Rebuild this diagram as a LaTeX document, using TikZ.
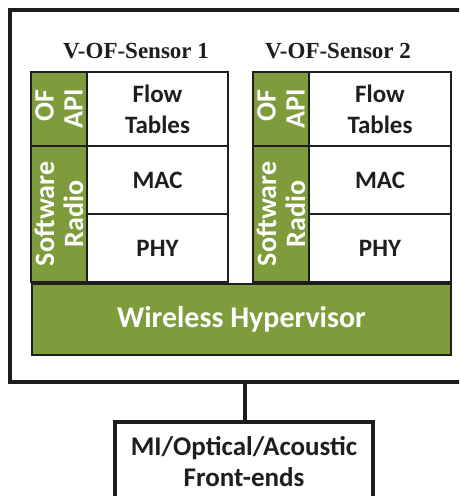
\documentclass[tikz,border=0pt]{standalone}
\usepackage{fontspec}
\setmainfont{Carlito}
\newfontfamily\titlefont{Liberation Serif}
\definecolor{olive}{HTML}{7E9C3B}
\definecolor{ink}{HTML}{1E1E1E}
\tikzset{
  cell/.style={draw=ink, line width=2.6pt, fill=white, inner sep=0pt, font=\bfseries\fontsize{25}{31}\selectfont, text=ink, align=center},
  gcell/.style={cell, fill=olive, text=white, font=\bfseries\fontsize{28}{29}\selectfont},
  ttl/.style={font=\titlefont\bfseries\fontsize{23}{26}\selectfont, text=ink, inner sep=0pt},
}
\begin{document}
\begin{tikzpicture}[x=1pt,y=-1pt]
\useasboundingbox (0,0) rectangle (459,496);
\clip (0,0) rectangle (459,496);
% outer box
\draw[ink, line width=3.5pt] (10,10) rectangle (475,382);
% titles
\node[ttl] (t1) at (136,51) {V-OF-Sensor 1};
\node[ttl] (t2) at (338,51) {V-OF-Sensor 2};
% sensor 1
\node[cell, minimum width=141pt, minimum height=74pt] (ft1) at (157.5,109) {Flow\\Tables};
\node[cell, minimum width=141pt, minimum height=68pt] (mac1) at (157.5,180) {MAC};
\node[cell, minimum width=141pt, minimum height=68pt] (phy1) at (157.5,248) {PHY};
\node[gcell, minimum width=56pt, minimum height=74pt] (of1) at (59,109) {};
\node[gcell, minimum width=56pt, minimum height=136pt] (sr1) at (59,214) {};
\node[gcell, draw=none, fill=none, rotate=90, align=right] (of1t) at (of1.center) {OF\\API};
\node[gcell, draw=none, fill=none, rotate=90] (sr1t) at (sr1.center) {Software\\Radio};
% sensor 2
\node[cell, minimum width=142pt, minimum height=74pt] (ft2) at (380,109) {Flow\\Tables};
\node[cell, minimum width=142pt, minimum height=68pt] (mac2) at (380,180) {MAC};
\node[cell, minimum width=142pt, minimum height=68pt] (phy2) at (380,248) {PHY};
\node[gcell, minimum width=56pt, minimum height=74pt] (of2) at (281,109) {};
\node[gcell, minimum width=56pt, minimum height=136pt] (sr2) at (281,214) {};
\node[gcell, draw=none, fill=none, rotate=90, align=right] (of2t) at (of2.center) {OF\\API};
\node[gcell, draw=none, fill=none, rotate=90] (sr2t) at (sr2.center) {Software\\Radio};
% hypervisor
\node[gcell, line width=2pt, minimum width=419pt, minimum height=71pt, font=\bfseries\fontsize{30}{32}\selectfont] (hv) at (241.5,319.5) {Wireless Hypervisor};
% front ends
\node[cell, line width=3.5pt, minimum width=258pt, minimum height=80pt, font=\bfseries\fontsize{27}{31}\selectfont, anchor=north] (fe) at (244,420) {MI/Optical/Acoustic\\Front-ends};
\coordinate (ob) at (245,382);
\draw[ink, line width=3.5pt] (ob) -- (fe.north -| ob);
\end{tikzpicture}
\end{document}
